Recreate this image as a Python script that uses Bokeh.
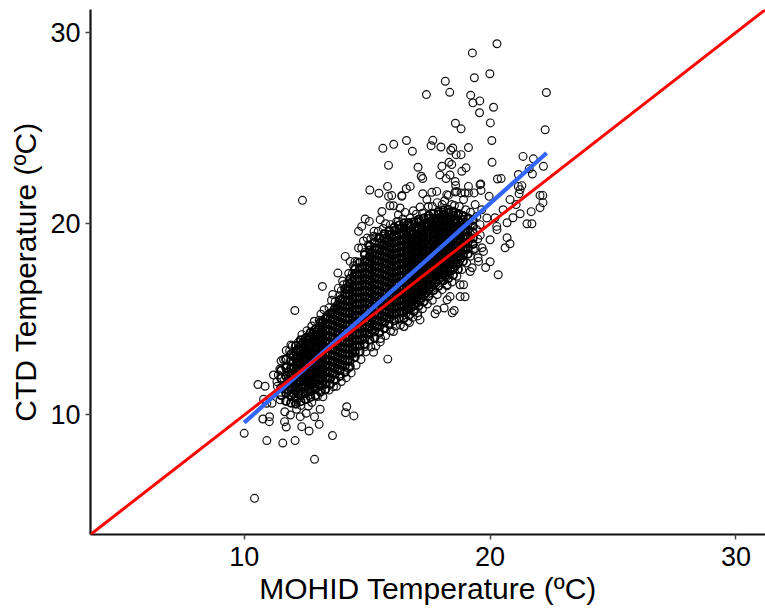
from bokeh.plotting import figure
from bokeh.models import Slope, FixedTicker
from bokeh.embed import file_html
from bokeh.resources import INLINE

# Sparse points: (MOHID, CTD)
low_side = [(10.0,9.04),(10.92,8.66),(11.57,8.53),(12.07,8.66),(12.64,9.16),(13.59,8.92),(12.86,7.68),(10.42,5.64),
 (14.17,10.43),(14.12,10.12),(14.46,9.95),(13.05,9.51),(12.34,9.39),(11.71,9.37),(11.64,9.65),(10.76,9.79),(11.02,9.65),
 (11.03,9.91),(11.88,10.0),(11.65,10.17),(12.28,9.91),(12.86,9.91),(12.52,10.09),(12.13,10.3),(13.09,10.3),(12.61,10.47),
 (10.56,11.59),(10.85,11.5),(10.79,10.82),(10.92,10.61),(11.13,10.61),(11.19,12.09),(11.39,12.09),(11.33,11.74),(11.46,10.79),(12.14,10.79),
 (15.26,13.28),(15.84,12.92),(15.53,13.82),(14.92,13.58),(16.49,14.62),(16.07,14.36),(16.72,14.83),(17.06,15.18),(14.51,13.23),
 (14.24,12.44),(13.63,11.48),(13.29,11.31),(12.98,10.96),(16.5,14.62),(17.76,15.29),(18.13,15.59),(18.37,16.19),(18.54,15.46)]
left_side = [(11.5,12.83),(11.71,13.37),(11.9,13.66),(12.2,13.79),(12.06,15.46),(12.96,14.33),(13.12,15.27),(13.36,15.2),
 (12.37,21.22),(13.18,16.72),(13.7,15.92),(13.81,17.42),(13.83,16.63),(14.04,16.81),(14.11,16.37),(14.11,18.29),(14.31,18.03),
 (14.51,18.03),(14.65,18.73),(14.78,18.73),(15.05,18.9),(14.65,19.6),(14.78,19.86),(15.28,19.6),(15.26,19.34),(15.53,19.25),
 (15.87,19.42),(14.92,20.25),(15.09,20.12),(15.53,20.21),(15.6,20.64),(15.11,21.76),(15.48,21.59),(15.83,21.95),(15.87,21.43),
 (16.0,21.47),(16.41,21.43),(15.93,20.94),(16.07,20.94),(16.34,20.82),(16.54,20.59),(16.88,20.68),(16.27,20.47),(16.27,20.12),
 (16.61,19.95),(16.61,19.77),(15.64,23.94),(16.08,24.15),(15.87,23.05)]
upper_tail = [(20.28,29.41),(19.28,28.93),(19.99,27.84),(19.36,27.63),(18.18,27.45),(18.36,26.87),(17.41,26.75),(19.21,26.72),
 (22.29,26.86),(19.3,26.32),(19.58,26.42),(19.57,25.8),(20.14,26.09),(18.59,25.25),(18.82,24.96),(20.01,25.27),(22.24,24.91),
 (20.07,24.35),(16.6,24.35),(17.67,24.36),(16.84,23.79),(17.6,24.08),(18.0,24.01),(19.12,23.98),(18.48,23.96),(18.4,23.84),
 (18.62,23.61),(18.82,23.61),(20.08,23.21),(21.34,23.52),(21.76,23.39),(22.17,23.0),(21.72,22.6),(21.15,22.57),(21.59,22.87),
 (20.45,22.36),(17.07,22.95),(18.33,23.21),(18.44,23.09),(18.04,23.0),(19.02,22.92),(18.85,22.74),(17.96,22.55),(18.37,22.55),
 (18.21,22.36),(17.2,22.48),(17.26,22.36),(18.58,22.21),(18.6,22.0),(19.62,22.08),(19.12,21.95),(21.15,21.95),(21.29,21.99),
 (19.63,21.74),(16.75,21.95),(16.59,21.83),(17.83,21.69),(17.63,21.64),(17.26,21.57),(21.18,21.57),(18.3,21.48),(18.82,21.61),
 (19.12,21.61),(19.35,21.61),(19.96,21.43),(18.58,21.66),(22.03,21.48),(22.14,21.48),(16.41,21.48),(17.43,21.26),(17.15,20.87),
 (17.49,20.9),(17.49,20.42),(18.24,21.52),(18.44,21.0),(18.64,21.69),(18.92,21.26),(18.98,21.61),(19.01,20.73),(19.39,21.0),
 (19.59,22.04),(20.3,22.34)]
right_side = [(22.15,21.1),(22.03,20.84),(21.67,20.63),(21.5,20.0),(21.7,20.0),(20.93,20.31),(21.22,20.52),(20.69,20.05),(20.69,19.27),
 (20.81,18.95),(20.33,17.33),(20.61,18.74),(21.06,21.0),(21.22,21.78),(20.81,21.26),(20.53,20.73),(20.2,20.31),(20.28,19.69),(20.0,19.16),
 (19.67,18.74),(19.51,18.22),(20.0,18.01),(19.27,17.7),(18.78,16.81),(18.98,16.18),(18.25,16.02),(18.46,15.34),(17.85,15.5),(17.15,14.97),
 (18.25,16.81),(19.59,19.95),(19.66,20.73),(19.46,20.38),(19.87,20.3),(20.27,19.86),(19.73,18.55),(19.82,17.71),(19.32,18.64),(19.53,18.03),
 (19.19,17.5),(18.92,16.81),(18.78,16.19)]
# Points along the fuzzy edges of the cloud
edge_upper = [(12.35,14.2),(12.55,14.4),(12.75,14.65),(12.6,14.05),(12.85,14.9),(13.05,14.95),(13.25,15.5),(13.45,15.6),(13.55,16.0),
 (13.65,15.5),(13.85,16.2),(13.95,16.5),(13.6,16.3),(14.0,17.0),(14.2,16.9),(14.25,17.4),(14.4,17.4),(14.45,17.8),(14.6,18.0),(14.9,18.5),
 (14.85,19.1),(15.0,19.25),(15.15,19.2),(15.35,19.3),(15.45,19.6),(15.65,19.75),(15.75,20.0),(15.95,19.95),(16.2,20.1),(16.45,20.25),
 (16.75,20.3),(17.0,20.5),(17.25,20.55),(17.65,20.9),(17.85,21.1),(18.05,21.0),(18.15,21.2),(18.55,20.95),(18.75,20.9),
 (11.35,11.5),(11.45,12.4),(11.6,12.9),(11.85,13.35),(11.95,13.6)]
edge_lower = [(12.3,10.5),(12.75,10.65),(13.2,10.95),(13.45,11.3),(13.75,11.5),(13.95,11.75),(14.15,11.95),(14.35,12.2),(14.55,12.6),
 (14.75,12.9),(14.95,13.3),(15.15,13.55),(15.35,13.6),(15.55,14.0),(15.75,14.15),(15.95,14.4),(16.15,14.65),(16.35,14.7),(16.65,14.9),
 (16.85,15.1),(17.05,15.35),(17.25,15.55),(17.45,15.8),(17.65,16.0),(17.85,16.3),(18.05,16.55),(18.25,16.75),(18.45,16.95),(18.65,17.25),
 (18.85,17.6),(19.05,17.95),(19.2,18.3),(19.4,18.7),(19.5,19.2),(19.45,19.7),(19.2,20.6),(19.6,19.4)]

# Dense cloud, estimated column by column: MOHID value, then CTD values
core_x = [11.5,11.7,11.9,12.1,12.3,12.5,12.7,12.9,13.1,13.3,13.5,13.7,13.9,14.1,14.3,14.5,14.7,14.9,15.1,15.3,
          15.5,15.7,15.9,16.1,16.3,16.5,16.7,16.9,17.1,17.3,17.5,17.7,17.9,18.1,18.3,18.5,18.7,18.9,19.1,19.3]
core_y = [
 [11.03,11.41,11.92,12.33],
 [10.72,11.14,11.58,12.03,12.47,12.91],
 [10.63,10.98,11.33,11.71,12.08,12.44,12.82,13.17],
 [10.58,10.91,11.27,11.62,11.93,12.28,12.61,12.94,13.31,13.62],
 [10.71,11.04,11.43,11.74,12.06,12.37,12.66,13.02,13.34,13.63,13.92],
 [10.82,11.13,11.48,11.79,12.12,12.41,12.74,13.05,13.38,13.71,14.02],
 [10.93,11.24,11.56,11.87,12.18,12.52,12.83,13.14,13.46,13.77,14.08,14.32],
 [11.02,11.36,11.64,11.96,12.27,12.58,12.91,13.22,13.53,13.84,14.17,14.49],
 [11.21,11.52,11.83,12.14,12.43,12.76,13.07,13.36,13.69,14.01,14.32,14.63,14.84],
 [11.33,11.62,11.94,12.26,12.57,12.88,13.19,13.51,13.82,14.13,14.44,14.76,15.02],
 [11.61,11.91,12.22,12.53,12.84,13.16,13.47,13.78,14.09,14.41,14.72,15.03,15.31],
 [11.82,12.14,12.46,12.77,13.08,13.39,13.71,14.02,14.33,14.64,14.96,15.27,15.58],
 [12.03,12.34,12.64,12.96,13.27,13.58,13.91,14.22,14.53,14.84,15.16,15.47,15.78,16.02],
 [12.24,12.56,12.87,13.18,13.49,13.81,14.12,14.43,14.74,15.06,15.37,15.68,15.99,16.31,16.58],
 [12.53,12.83,13.14,13.46,13.77,14.08,14.39,14.71,15.02,15.33,15.64,15.96,16.27,16.58,16.86,17.12],
 [13.02,13.31,13.63,13.94,14.26,14.57,14.88,15.19,15.51,15.82,16.13,16.44,16.76,17.07,17.38,17.62],
 [13.32,13.62,13.93,14.24,14.56,14.87,15.18,15.49,15.81,16.12,16.43,16.74,17.06,17.37,17.68,17.97],
 [13.71,14.01,14.32,14.63,14.94,15.26,15.57,15.88,16.19,16.51,16.82,17.13,17.44,17.76,18.07,18.38],
 [13.92,14.23,14.54,14.86,15.17,15.48,15.79,16.11,16.42,16.73,17.04,17.36,17.67,17.98,18.29,18.61,18.83],
 [14.04,14.36,14.67,14.98,15.29,15.61,15.92,16.23,16.54,16.86,17.17,17.48,17.79,18.11,18.42,18.73,19.02],
 [14.31,14.62,14.93,15.24,15.56,15.87,16.18,16.49,16.81,17.12,17.43,17.74,18.06,18.37,18.68,18.99,19.28],
 [14.52,14.83,15.14,15.46,15.77,16.08,16.39,16.71,17.02,17.33,17.64,17.96,18.27,18.58,18.89,19.21,19.47],
 [14.73,15.04,15.36,15.67,15.98,16.29,16.61,16.92,17.23,17.54,17.86,18.17,18.48,18.79,19.11,19.42,19.63],
 [14.94,15.26,15.57,15.88,16.19,16.51,16.82,17.13,17.44,17.76,18.07,18.38,18.69,19.01,19.32,19.63,19.81],
 [15.03,15.34,15.66,15.97,16.28,16.59,16.91,17.22,17.53,17.84,18.16,18.47,18.78,19.09,19.41,19.72,19.92],
 [15.06,15.37,15.69,16.01,16.32,16.63,16.94,17.26,17.57,17.88,18.19,18.51,18.82,19.13,19.44,19.76,20.03],
 [15.22,15.53,15.84,16.16,16.47,16.78,17.09,17.41,17.72,18.03,18.34,18.66,18.97,19.28,19.59,19.91,20.04],
 [15.42,15.73,16.04,16.36,16.67,16.98,17.29,17.61,17.92,18.23,18.54,18.86,19.17,19.48,19.79,20.09],
 [15.71,16.02,16.33,16.64,16.96,17.27,17.58,17.89,18.21,18.52,18.83,19.14,19.46,19.77,20.08,20.22],
 [15.93,16.24,16.56,16.87,17.18,17.49,17.81,18.12,18.43,18.74,19.06,19.37,19.68,19.99,20.28],
 [16.21,16.52,16.83,17.14,17.46,17.77,18.08,18.39,18.71,19.02,19.33,19.64,19.96,20.27,20.42],
 [16.52,16.83,17.14,17.46,17.77,18.08,18.39,18.71,19.02,19.33,19.64,19.96,20.27,20.53],
 [16.74,17.06,17.37,17.68,17.99,18.31,18.62,18.93,19.24,19.56,19.87,20.18,20.49,20.62],
 [17.03,17.34,17.66,17.97,18.28,18.59,18.91,19.22,19.53,19.84,20.16,20.47,20.71],
 [17.14,17.46,17.77,18.08,18.39,18.71,19.02,19.33,19.64,19.96,20.27,20.58,20.74],
 [17.32,17.63,17.94,18.26,18.57,18.88,19.19,19.51,19.82,20.13,20.44,20.63],
 [17.62,17.93,18.24,18.56,18.87,19.18,19.49,19.81,20.12,20.43,20.52],
 [18.03,18.34,18.66,18.97,19.28,19.59,19.91,20.22,20.41],
 [18.42,18.73,19.04,19.36,19.67,19.98,20.29],
 [18.93,19.24,19.56,19.87,20.18],
]

# Second pass over the solid black middle of the cloud
fill_x = [11.8,12.0,12.2,12.4,12.6,12.8,13.0,13.2,13.4,13.6,13.8,14.0,14.2,14.4,14.6,14.8,15.0,15.2,15.4,15.6,
          15.8,16.0,16.2,16.4,16.6,16.8,17.0,17.2,17.4,17.6,17.8,18.0,18.2,18.4,18.6,18.8,19.0]
fill_y = [
 [11.31,11.77,12.24],
 [11.12,11.46,11.79,12.11,12.46,12.79,13.08],
 [11.09,11.42,11.76,12.09,12.44,12.77,13.11,13.43],
 [11.21,11.57,11.91,12.22,12.53,12.88,13.19,13.51,13.79],
 [11.34,11.69,12.02,12.34,12.67,12.98,13.29,13.61,13.92],
 [11.46,11.79,12.11,12.43,12.74,13.06,13.37,13.69,14.0,14.27],
 [11.62,11.93,12.29,12.59,12.92,13.22,13.52,13.84,14.16,14.46],
 [11.78,12.08,12.39,12.71,13.02,13.33,13.64,13.96,14.27,14.58,14.84],
 [11.96,12.27,12.58,12.89,13.21,13.52,13.83,14.14,14.46,14.77,15.08],
 [12.17,12.48,12.79,13.11,13.42,13.73,14.04,14.36,14.67,14.98,15.29],
 [12.36,12.67,12.99,13.3,13.61,13.92,14.24,14.55,14.86,15.17,15.49,15.74],
 [12.58,12.89,13.21,13.52,13.83,14.14,14.46,14.77,15.08,15.39,15.71,16.02],
 [12.86,13.17,13.48,13.79,14.11,14.42,14.73,15.04,15.36,15.67,15.98,16.29,16.56],
 [13.24,13.54,13.86,14.17,14.48,14.79,15.11,15.42,15.73,16.04,16.36,16.67,16.98],
 [13.62,13.93,14.24,14.56,14.87,15.18,15.49,15.81,16.12,16.43,16.74,17.06,17.37],
 [13.94,14.26,14.57,14.88,15.19,15.51,15.82,16.13,16.44,16.76,17.07,17.38,17.69],
 [14.26,14.57,14.88,15.19,15.51,15.82,16.13,16.44,16.76,17.07,17.38,17.69,18.01],
 [14.44,14.76,15.07,15.38,15.69,16.01,16.32,16.63,16.94,17.26,17.57,17.88,18.19,18.46],
 [14.62,14.93,15.24,15.56,15.87,16.18,16.49,16.81,17.12,17.43,17.74,18.06,18.37,18.66],
 [14.84,15.16,15.47,15.78,16.09,16.41,16.72,17.03,17.34,17.66,17.97,18.28,18.59,18.87],
 [15.07,15.38,15.69,16.01,16.32,16.63,16.94,17.26,17.57,17.88,18.19,18.51,18.82,19.08],
 [15.24,15.56,15.87,16.18,16.49,16.81,17.12,17.43,17.74,18.06,18.37,18.68,18.99,19.27],
 [15.34,15.66,15.97,16.28,16.59,16.91,17.22,17.53,17.84,18.16,18.47,18.78,19.09,19.37],
 [15.42,15.73,16.04,16.36,16.67,16.98,17.29,17.61,17.92,18.23,18.54,18.86,19.17,19.46],
 [15.51,15.82,16.13,16.44,16.76,17.07,17.38,17.69,18.01,18.32,18.63,18.94,19.26,19.54],
 [15.67,15.98,16.29,16.61,16.92,17.23,17.54,17.86,18.17,18.48,18.79,19.11,19.42,19.63],
 [15.88,16.19,16.51,16.82,17.13,17.44,17.76,18.07,18.38,18.69,19.01,19.32,19.63,19.78],
 [16.12,16.43,16.74,17.06,17.37,17.68,17.99,18.31,18.62,18.93,19.24,19.56,19.87],
 [16.38,16.69,17.01,17.32,17.63,17.94,18.26,18.57,18.88,19.19,19.51,19.82,20.03],
 [16.69,17.01,17.32,17.63,17.94,18.26,18.57,18.88,19.19,19.51,19.82,20.13],
 [16.94,17.26,17.57,17.88,18.19,18.51,18.82,19.13,19.44,19.76,20.07,20.26],
 [17.19,17.51,17.82,18.13,18.44,18.76,19.07,19.38,19.69,20.01,20.32],
 [17.32,17.63,17.94,18.26,18.57,18.88,19.19,19.51,19.82,20.13,20.37],
 [17.54,17.86,18.17,18.48,18.79,19.11,19.42,19.73,20.04,20.28],
 [17.82,18.13,18.44,18.76,19.07,19.38,19.69,20.01,20.23],
 [18.18,18.49,18.81,19.12,19.43,19.74,20.06],
 [18.64,18.96,19.27,19.58,19.89],
]

fit_x = [10.0, 22.3]
fit_y = [9.6, 23.7]
x_ticks = [10, 20, 30]
y_ticks = [10, 20, 30]

pts = low_side + left_side + upper_tail + right_side + edge_upper + edge_lower
xs = [a for a, _ in pts]
ys = [b for _, b in pts]
dense_x, dense_y = [], []
for cols_x, cols_y in ((core_x, core_y), (fill_x, fill_y)):
    for cx, col in zip(cols_x, cols_y):
        dense_x += [cx] * len(col)
        dense_y += col

p = figure(width=765, height=614, output_backend="svg", toolbar_location=None,
           x_range=(3.75, 31.2), y_range=(3.75, 31.2),
           min_border_left=90, min_border_right=0, min_border_top=9, min_border_bottom=80)
p.outline_line_color = None
p.background_fill_color = "white"
p.grid.visible = False

p.scatter(xs, ys, marker="circle", size=7.8, fill_color=None, line_color="#111111", line_width=1.2)
p.scatter(dense_x, dense_y, marker="circle", size=7.8, fill_color=None, line_color="#000000", line_width=1.9)
p.add_layout(Slope(gradient=1, y_intercept=0, line_color="#ff0000", line_width=3))
p.line(fit_x, fit_y, line_color="#3366ff", line_width=4.2)

for ax, ticks, label, size in ((p.xaxis[0], x_ticks, "MOHID Temperature (ºC)", "30px"),
                               (p.yaxis[0], y_ticks, "CTD Temperature (ºC)", "30px")):
    ax.ticker = FixedTicker(ticks=ticks)
    ax.axis_label = label
    ax.axis_label_text_font = "Liberation Sans"
    ax.axis_label_text_font_style = "normal"
    ax.axis_label_text_font_size = size
    ax.axis_label_text_color = "black"
    ax.major_label_text_font = "Liberation Sans"
    ax.major_label_text_font_size = "27px"
    ax.major_label_text_color = "black"
    ax.axis_line_color = "#111111"
    ax.axis_line_width = 2.2
    ax.major_tick_line_color = "#444444"
    ax.major_tick_line_width = 1.5
    ax.major_tick_in = 0
    ax.major_tick_out = 5
    ax.minor_tick_line_color = None
p.xaxis[0].major_label_standoff = 7
p.xaxis[0].axis_label_standoff = 3
p.yaxis[0].axis_label_standoff = 5

open("out.html", "w").write(file_html(p, INLINE))
